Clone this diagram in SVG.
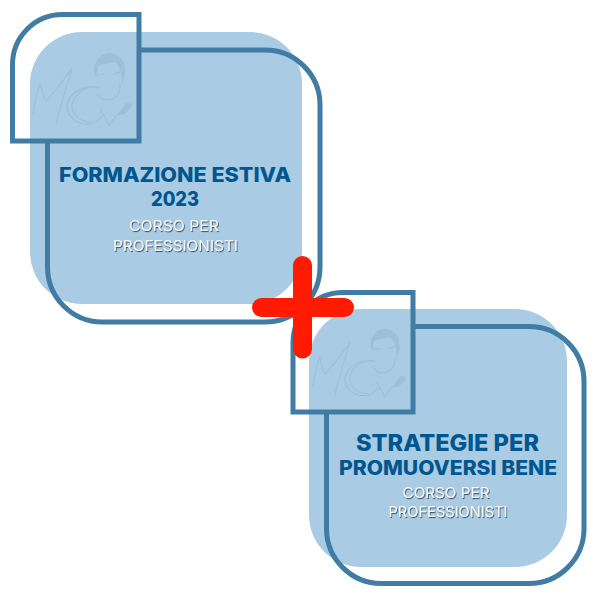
<svg xmlns="http://www.w3.org/2000/svg" width="600" height="600" viewBox="0 0 600 600">
<style>
.fill{fill:#a9cbe3}
.line{fill:none;stroke:#417ca5;stroke-width:5}
.title{font-family:"Inter","Liberation Sans",sans-serif;font-weight:800;font-size:20px;fill:#00578f;text-anchor:middle}
.sub{font-family:"Inter","Liberation Sans",sans-serif;font-weight:400;font-size:15px;fill:#f4f7fa;text-anchor:middle;filter:url(#sh)}
.lg{fill:none;stroke:#9dc0d8;stroke-width:1.1;stroke-linecap:round;stroke-linejoin:round}
.lgf{fill:#9dc0d8}
</style>
<defs>
<filter id="sh" x="-10%" y="-30%" width="120%" height="160%"><feDropShadow dx="0.8" dy="1.1" stdDeviation="0.3" flood-color="#2f3f4c" flood-opacity="0.85"/></filter>
<g id="logo">
<path class="lg" d="M33 113C35 103 37 92 40 83C42 90 43 97 46 101C55 92 65 78 72 68C66 88 60 107 56 125"/>
<path class="lg" d="M100 88C88 84 70 90 67 105C66 118 78 125 90 124C95 124 99 120 102 116"/>
<path class="lg" d="M97 87C85 86 73 94 72 106C72 116 82 122 92 122"/>
<path class="lg" d="M100 109C103 114 107 120 109 126C113 119 119 113 122 111"/>
<path class="lgf" d="M118 115L126 103L132 104C131 110 124 116 118 115Z"/>
<path class="lgf" d="M94 70C95 59 102 53 110 53C120 54 126 62 125 74L122 84C122 74 120 64 114 62C108 64 101 63 98 66C97 70 97 73 96 77Z"/>
<path class="lg" d="M120 84C121 93 115 100 107 100C103 100 100 98 97 94"/>
<path class="lg" d="M97 75L104 74M114 74L120 72" stroke-width="1.5"/>
</g>
</defs>
<rect width="600" height="600" fill="#fff"/>
<g id="card-formazione">
<rect class="fill" x="30" y="32" width="272" height="272" rx="52"/>
<path class="line" d="M141 50H265A55 55 0 0 1 320 105V267A55 55 0 0 1 265 322H102A55 55 0 0 1 47.500 267V143"/>
<path class="line" d="M139 14.500V141H12.500V64.500A50 50 0 0 1 62.500 14.500Z"/>
<use href="#logo"/>
<text class="title" x="175" y="182" textLength="232" lengthAdjust="spacingAndGlyphs">FORMAZIONE ESTIVA</text>
<text class="title" x="175" y="206" textLength="48" lengthAdjust="spacingAndGlyphs">2023</text>
<text class="sub" x="174" y="231" textLength="90" lengthAdjust="spacingAndGlyphs">CORSO PER</text>
<text class="sub" x="175.500" y="251" textLength="125" lengthAdjust="spacingAndGlyphs">PROFESSIONISTI</text>
</g>
<g id="card-strategie">
<rect class="fill" x="309" y="309" width="258" height="258" rx="52"/>
<path class="line" d="M414 326.500H529A55 55 0 0 1 584 381.500V528.500A55 55 0 0 1 529 583.500H381.500A55 55 0 0 1 326.500 528.500V413"/>
<path class="line" d="M413 292.500V412H293V342.500A50 50 0 0 1 343 292.500Z"/>
<use href="#logo" transform="translate(282 279) scale(0.94)"/>
<text class="title" x="447.500" y="451" font-size="23" style="font-size:23px" textLength="183" lengthAdjust="spacingAndGlyphs">STRATEGIE PER</text>
<text class="title" x="448" y="475" textLength="218" lengthAdjust="spacingAndGlyphs">PROMUOVERSI BENE</text>
<text class="sub" x="446" y="498" textLength="87" lengthAdjust="spacingAndGlyphs">CORSO PER</text>
<text class="sub" x="448" y="517" textLength="119" lengthAdjust="spacingAndGlyphs">PROFESSIONISTI</text>
</g>
<g id="plus">
<path d="M302.500 265.500V349M261.500 307.500H344.500" fill="none" stroke="#ff1a00" stroke-width="19" stroke-linecap="round"/>
</g>
</svg>
